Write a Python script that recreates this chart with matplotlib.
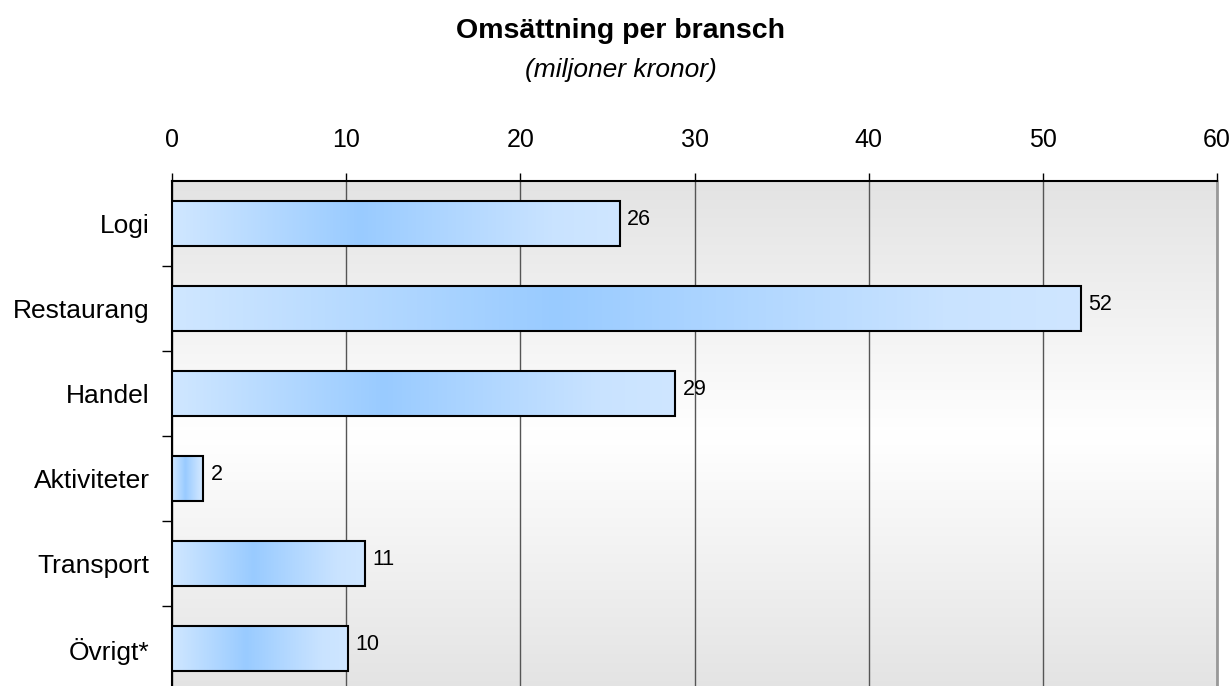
import numpy as np
import matplotlib.pyplot as plt
from matplotlib.colors import LinearSegmentedColormap

plt.rcParams['font.family'] = ['Liberation Sans', 'DejaVu Sans']

# Turnover per sector, million SEK
branscher = ['Logi', 'Restaurang', 'Handel', 'Aktiviteter', 'Transport', 'Övrigt*']
omsattning = [25.7, 52.2, 28.9, 1.8, 11.1, 10.1]
x_ticks = [0, 10, 20, 30, 40, 50, 60]

fig = plt.figure(figsize=(12.29, 6.86), dpi=100)
ax = fig.add_axes([0.14, -0.0073, 0.8503, 0.7434])

# vertical grey-white-grey background of the plot area
bg_cmap = LinearSegmentedColormap.from_list('bg', ['#e3e3e3', '#ffffff', '#e3e3e3'])
ax.imshow(np.linspace(0, 1, 256).reshape(-1, 1), cmap=bg_cmap, aspect='auto',
          extent=(0, 1, 0, 1), transform=ax.transAxes, zorder=0)

# horizontal light-dark-light gradient inside each bar
bar_cmap = LinearSegmentedColormap.from_list(
    'bar', [(0, '#d0e7ff'), (0.42, '#99cbff'), (0.85, '#c9e3ff'), (1, '#cfe6ff')])
grad = np.linspace(0, 1, 256).reshape(1, -1)
h = 0.53
y = np.arange(len(branscher))

for yi, v in zip(y, omsattning):
    ax.imshow(grad, cmap=bar_cmap, aspect='auto',
              extent=(0, v, yi + h / 2, yi - h / 2), zorder=3)
    ax.text(v + 0.4, yi - 0.05, f'{v:.0f}', va='center', ha='left', fontsize=15.5, zorder=5)

ax.barh(y, omsattning, height=h, facecolor='none', edgecolor='black',
        linewidth=1.5, zorder=4)

ax.set_xlim(0, 60)
ax.set_ylim(len(branscher) - 0.5, -0.5)

ax.xaxis.tick_top()
ax.set_xticks(x_ticks)
ax.tick_params(axis='x', which='major', direction='out', length=6, width=1,
               labelsize=18, pad=15, colors='black')
ax.grid(axis='x', color='#555555', linewidth=1, zorder=1)

ax.set_yticks(y)
ax.set_yticklabels(branscher)
ax.set_yticks(np.arange(len(branscher) - 1) + 0.5, minor=True)
ax.tick_params(axis='y', which='major', length=0, labelsize=19, pad=16)
ax.tick_params(axis='y', which='minor', direction='out', length=7, width=1)

ax.spines['top'].set_linewidth(1.5)
ax.spines['left'].set_linewidth(1.5)
ax.spines['right'].set_color('#999999')
ax.spines['right'].set_linewidth(2)
ax.spines['bottom'].set_visible(False)

fig.text(0.505, 0.955, 'Omsättning per bransch', ha='center', va='center',
         fontsize=20.5, fontweight='bold')
fig.text(0.505, 0.898, '(miljoner kronor)', ha='center', va='center',
         fontsize=19, fontstyle='italic')

fig.savefig('out.png', dpi=100)
